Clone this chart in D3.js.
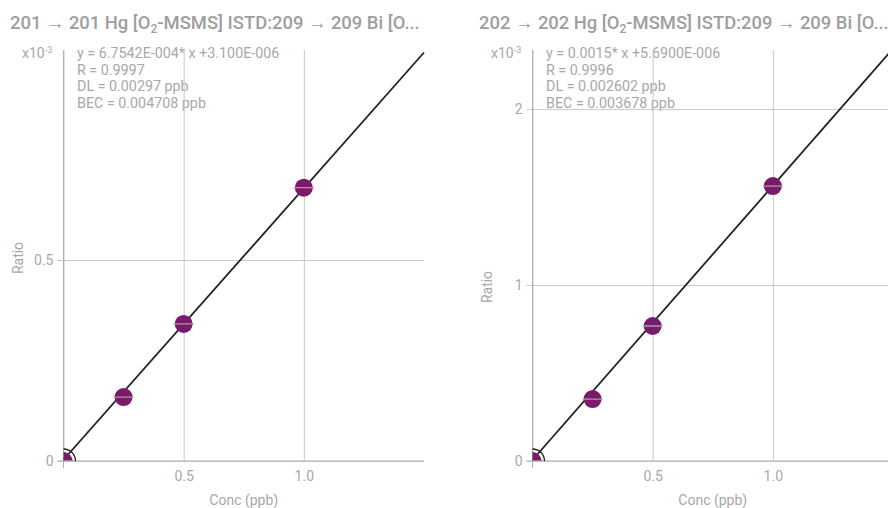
<!DOCTYPE html>
<html><head><meta charset="utf-8">
<script src="https://cdn.jsdelivr.net/npm/d3@7"></script>
<style>
html,body{margin:0;padding:0;background:#fff;}
svg{display:block;font-family:Roboto,"Noto Sans",sans-serif;}
</style></head>
<body><svg id="c" width="888" height="508"></svg>
<script>
// ---- data ----
const titlesPre = ["201 \u2192 201 Hg [O", "202 \u2192 202 Hg [O"];
const titlesPost = ["-MSMS] ISTD:209 \u2192 209 Bi [O...", "-MSMS] ISTD:209 \u2192 209 Bi [O..."];
const conc = [0, 0.25, 0.5, 1.0];
const ratio201 = [0, 0.159, 0.341, 0.680];   // x10^-3
const ratio202 = [0, 0.352, 0.767, 1.562];   // x10^-3
const slopes = [0.67542, 1.558];              // x10^-3 per ppb
const intercepts = [0.0031, 0.00569];         // x10^-3
const yMax = [1.0224, 2.335];
const xMax = 1.5;
const xTicks = [0, 0.5, 1.0];
const xTickLabels = ["", "0.5", "1.0"];
const yTicks201 = [0, 0.5];
const yTickLabels201 = ["0", "0.5"];
const yTicks202 = [0, 1, 2];
const yTickLabels202 = ["0", "1", "2"];
const eq201 = ["y = 6.7542E-004* x +3.100E-006", "R = 0.9997", "DL = 0.00297 ppb", "BEC = 0.004708 ppb"];
const eq202 = ["y = 0.0015* x +5.6900E-006", "R = 0.9996", "DL = 0.002602 ppb", "BEC = 0.003678 ppb"];

const panels = [
  {ox:0, ratio:ratio201, yt:yTicks201, ytl:yTickLabels201, eq:eq201, ratioY:258},
  {ox:469, ratio:ratio202, yt:yTicks202, ytl:yTickLabels202, eq:eq202, ratioY:287}
];

const svg = d3.select("#c");
const L=63.5, R=424, T=50, B=461;
const gridCol="#c8c8c8", axisCol="#b0b0b0", textCol="#a8a8a8";

panels.forEach((p,i)=>{
  const g = svg.append("g").attr("transform",`translate(${p.ox},0)`);
  const x = d3.scaleLinear().domain([0,xMax]).range([L,R]);
  const y = d3.scaleLinear().domain([0,yMax[i]]).range([B,T]);

  // title
  const t = g.append("text").attr("x",10).attr("y",29)
    .attr("font-size",18.4).attr("font-weight",500).attr("fill","#9e9e9e");
  t.append("tspan").text(titlesPre[i]);
  t.append("tspan").attr("font-size",12).attr("dy",4).text("2");
  t.append("tspan").attr("dy",-4).text(titlesPost[i]);

  // equation text (drawn under grid)
  p.eq.forEach((s,k)=>{
    g.append("text").attr("x",77).attr("y",58+k*16.5)
      .attr("font-size",14.3).attr("fill",textCol).text(s);
  });

  // x10^-3
  const m = g.append("text").attr("x",22).attr("y",58).attr("font-size",14).attr("fill",textCol);
  m.append("tspan").text("x10");
  m.append("tspan").attr("font-size",9).attr("dy",-5).text("-3");

  // vertical grid (x axis)
  const gx = g.append("g").attr("transform",`translate(0,${B})`)
    .call(d3.axisBottom(x).tickValues(xTicks).tickSize(-(B-T)).tickPadding(10)
      .tickFormat((d,k)=>xTickLabels[k]));
  gx.select(".domain").remove();
  gx.selectAll("line").attr("stroke",gridCol);
  gx.selectAll("text").attr("font-size",14).attr("fill",textCol).attr("font-family","Roboto");

  // horizontal grid (y axis)
  const gy = g.append("g").attr("transform",`translate(${L-6},0)`)
    .call(d3.axisLeft(y).tickValues(p.yt).tickSize(-(R-L+6)).tickPadding(4)
      .tickFormat((d,k)=>p.ytl[k]));
  gy.select(".domain").remove();
  gy.selectAll("line").attr("stroke",gridCol);
  gy.selectAll("text").attr("font-size",14).attr("fill",textCol).attr("font-family","Roboto");

  // axis lines
  g.append("line").attr("x1",L).attr("x2",L).attr("y1",T).attr("y2",B+7).attr("stroke",axisCol);
  g.append("line").attr("x1",L-6).attr("x2",R).attr("y1",B).attr("y2",B).attr("stroke",axisCol);

  // axis titles
  g.append("text").attr("x",(L+R)/2).attr("y",505).attr("text-anchor","middle")
    .attr("font-size",14).attr("fill",textCol).text("Conc (ppb)");
  g.append("text").attr("transform",`translate(23,${p.ratioY}) rotate(-90)`).attr("text-anchor","middle")
    .attr("font-size",14).attr("fill",textCol).text("Ratio");

  // clip
  const cid="clip"+i;
  g.append("clipPath").attr("id",cid).append("rect").attr("x",L).attr("y",T-5).attr("width",R-L+2).attr("height",B-T+5);
  const pg = g.append("g").attr("clip-path",`url(#${cid})`);

  // regression line
  pg.append("line").attr("x1",x(0)).attr("y1",y(intercepts[i]))
    .attr("x2",x(xMax)).attr("y2",y(intercepts[i]+slopes[i]*xMax))
    .attr("stroke","#222").attr("stroke-width",1.8);

  // points
  conc.forEach((c,k)=>{
    const cx=x(c), cy=y(p.ratio[k]);
    if(k===0){
      pg.append("circle").attr("cx",cx).attr("cy",cy).attr("r",12).attr("fill","none").attr("stroke","#222").attr("stroke-width",1.3);
    }
    pg.append("circle").attr("cx",cx).attr("cy",cy).attr("r",9).attr("fill","#7b1a6c");
    pg.append("line").attr("x1",cx-10).attr("x2",cx+10).attr("y1",cy).attr("y2",cy)
      .attr("stroke","#a0a0a0").attr("stroke-width",1.3);
  });
});
</script></body></html>
